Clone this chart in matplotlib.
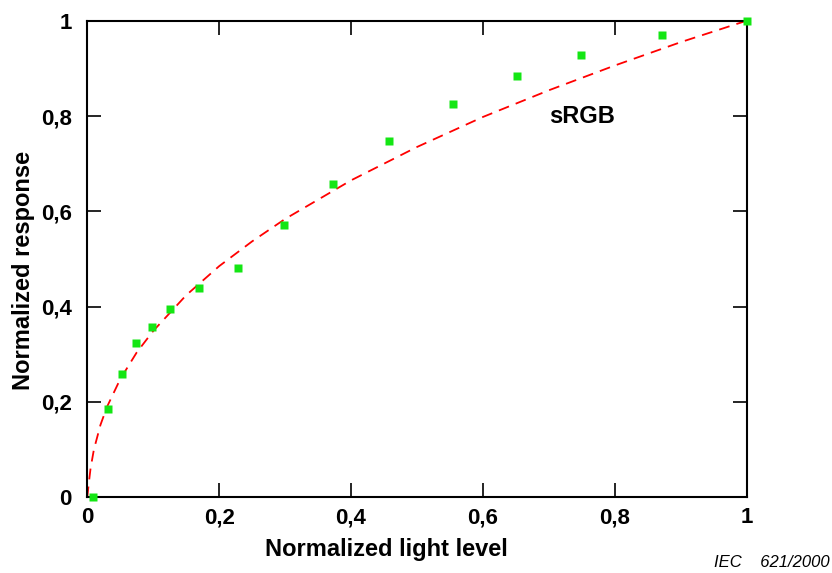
import matplotlib
matplotlib.use("Agg")
import matplotlib.pyplot as plt
from matplotlib.ticker import FuncFormatter

plt.rcParams["font.family"] = ["Liberation Sans", "DejaVu Sans"]

# measured points (green squares)
light_level = [0.009, 0.032, 0.053, 0.074, 0.098, 0.125, 0.170, 0.228,
               0.299, 0.372, 0.457, 0.555, 0.651, 0.749, 0.871, 1.000]
response = [0.000, 0.185, 0.259, 0.323, 0.358, 0.395, 0.439, 0.481,
            0.571, 0.657, 0.747, 0.825, 0.884, 0.927, 0.970, 1.000]

# sRGB reference curve (dashed)
srgb_x = [0.0, 0.002, 0.005, 0.01, 0.02, 0.03, 0.05, 0.075, 0.1, 0.15,
          0.2, 0.25, 0.3, 0.4, 0.5, 0.6, 0.7, 0.8, 0.9, 1.0]
srgb_y = [0.0, 0.026, 0.061, 0.100, 0.152, 0.190, 0.248, 0.304, 0.349, 0.424,
          0.485, 0.537, 0.584, 0.665, 0.735, 0.798, 0.854, 0.906, 0.955, 1.0]

ticks = [0, 0.2, 0.4, 0.6, 0.8, 1]


def comma_fmt(v, pos):
    if abs(v - round(v)) < 1e-9:
        return f"{int(round(v))}"
    return f"{v:.1f}".replace(".", ",")


fig = plt.figure(figsize=(8.32, 5.73), dpi=100)
ax = fig.add_axes([0.1049, 0.1321, 0.7926, 0.8318])

ax.plot(srgb_x, srgb_y, color="#ff0000", lw=1.3, ls=(0, (6, 4)), zorder=2)
ax.plot(light_level, response, ls="none", marker="s", ms=5.5,
        color="#14e614", mec="none", clip_on=False, zorder=3)

ax.set_xlim(0, 1)
ax.set_ylim(0, 1)
ax.set_xticks(ticks)
ax.set_yticks(ticks)
ax.xaxis.set_major_formatter(FuncFormatter(comma_fmt))
ax.yaxis.set_major_formatter(FuncFormatter(comma_fmt))
ax.tick_params(direction="in", length=10, width=1.2, top=True, right=True,
               labelsize=16)
ax.tick_params(axis="y", pad=11)
ax.tick_params(axis="x", pad=7)
for lbl in ax.get_xticklabels() + ax.get_yticklabels():
    lbl.set_fontweight("bold")
for sp in ax.spines.values():
    sp.set_linewidth(1.5)

ax.set_xlabel("Normalized light level", fontsize=17, fontweight="bold")
ax.set_ylabel("Normalized response", fontsize=17, fontweight="bold")
# labels sit slightly off-centre in the original
ax.xaxis.set_label_coords(0.453, -0.085)
ax.yaxis.set_label_coords(-0.080, 0.475)

ax.text(0.70, 0.80, "sRGB", fontsize=17, fontweight="bold",
        ha="left", va="center", transform=ax.transData)

fig.text(0.997, 0.006, "IEC    621/2000", fontsize=12, style="italic",
         ha="right", va="bottom")

fig.savefig("out.png", dpi=100)
